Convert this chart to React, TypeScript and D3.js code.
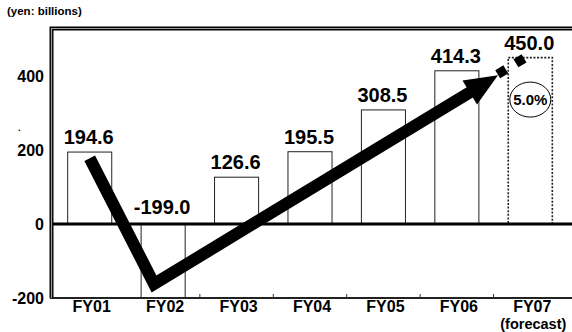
import React from "react";
import * as d3 from "d3";

// Fiscal years and results (yen: billions); FY07 is a forecast
const categories = ["FY01", "FY02", "FY03", "FY04", "FY05", "FY06", "FY07"];
const values = [194.6, -199.0, 126.6, 195.5, 308.5, 414.3, 450.0];
const valueLabels = ["194.6", "-199.0", "126.6", "195.5", "308.5", "414.3", "450.0"];
const forecastFlags = [false, false, false, false, false, false, true];
const yTicks = [-200, 0, 200, 400];
const unitLabel = "(yen: billions)";
const forecastNote = "(forecast)";
const forecastGrowth = "5.0%";

// Trend arrow waypoints: [category position (0 = FY01), value]
const trendPath: [number, number][] = [
  [0, 178],
  [0.876, -162],
  [5.56, 402],
];
// Dotted continuation toward the forecast
const trendForecast: [number, number][] = [
  [5.556, 405],
  [5.915, 448],
];

const W = 572;
const H = 332;
const left = 50;
const right = 572;
const top = 28;
const bottom = 298;

export default function App() {
  const y = d3.scaleLinear().domain([-200, 530]).range([bottom, top]);
  const x = d3
    .scaleBand<string>()
    .domain(categories)
    .range([53, 567])
    .paddingInner(0.4)
    .paddingOuter(0.2);
  const bw = x.bandwidth();
  const step = x.step();
  const cx = (c: string) => (x(c) as number) + bw / 2;
  const pos = d3
    .scaleLinear()
    .domain([0, categories.length - 1])
    .range([cx(categories[0]), cx(categories[categories.length - 1])]);

  const line = d3
    .line<[number, number]>()
    .x((d) => pos(d[0]))
    .y((d) => y(d[1]));

  // arrow head on the last trend segment
  const pts = trendPath.map((d) => [pos(d[0]), y(d[1])]);
  const [bx, by] = pts[pts.length - 1];
  const [ax, ay] = pts[pts.length - 2];
  const len = Math.hypot(bx - ax, by - ay);
  const ux = (bx - ax) / len;
  const uy = (by - ay) / len;
  const headLen = 33;
  const headW = 28;
  const baseX = bx - ux * headLen;
  const baseY = by - uy * headLen;
  const head = [
    [bx, by],
    [baseX - uy * (headW / 2), baseY + ux * (headW / 2)],
    [baseX + uy * (headW / 2), baseY - ux * (headW / 2)],
  ];
  const shaft: [number, number][] = [
    ...trendPath.slice(0, -1),
    [pos.invert(baseX + ux * 2), y.invert(baseY + uy * 2)],
  ];

  const font = "'Liberation Sans', Arial, Helvetica, sans-serif";
  const boundaries = d3.range(2, categories.length).map((i) => 53 + step * i);

  const fIdx = forecastFlags.indexOf(true);
  const fCat = categories[fIdx];
  const fTop = y(values[fIdx]);

  return (
    <svg
      width={W}
      height={H}
      style={{ position: "absolute", left: 0, top: 0, background: "#fff" }}
      fontFamily={font}
      fontWeight="bold"
    >
      <text x={7} y={14.5} fontSize={11.5}>
        {unitLabel}
      </text>
      <text x={18} y={131} fontSize={9}>
        .
      </text>

      {/* bars */}
      {categories.map((c, i) => {
        const v = values[i];
        const y0 = y(Math.max(0, v));
        const y1 = y(Math.min(0, v));
        return (
          <rect
            key={c}
            x={x(c)}
            y={y0}
            width={bw}
            height={y1 - y0}
            fill="#fff"
            stroke="#222"
            strokeWidth={forecastFlags[i] ? 1.6 : 1}
            strokeDasharray={forecastFlags[i] ? "2 1.6" : undefined}
          />
        );
      })}

      {/* value labels */}
      {categories.map((c, i) => {
        const v = values[i];
        const ly = v >= 0 ? y(v) - 8 : y(0) - 10;
        return (
          <text key={c} x={cx(c) - 1} y={ly} fontSize={20} textAnchor="middle">
            {valueLabels[i]}
          </text>
        );
      })}

      {/* growth rate badge */}
      <ellipse cx={cx(fCat)} cy={fTop + 42} rx={20.5} ry={17.5} fill="#fff" stroke="#000" strokeWidth={1} />
      <text x={cx(fCat)} y={fTop + 47.5} fontSize={15} textAnchor="middle">
        {forecastGrowth}
      </text>

      {/* zero line */}
      <line x1={left} x2={right} y1={y(0)} y2={y(0)} stroke="#000" strokeWidth={3} />

      {/* bottom axis */}
      <line x1={left} x2={right} y1={bottom} y2={bottom} stroke="#222" strokeWidth={2} />
      {boundaries.map((b, i) => (
        <line key={i} x1={b} x2={b} y1={bottom} y2={bottom - 4} stroke="#333" strokeWidth={1} />
      ))}

      {/* frame: top and left double rule */}
      <path d={`M${right},${top + 0.5}H${left + 1.5}V${bottom}`} fill="none" stroke="#000" strokeWidth={4} />
      <path d={`M${right},${top + 0.5}H${left + 1.5}V${bottom}`} fill="none" stroke="#9a9a9a" strokeWidth={1.2} />

      {/* y tick labels */}
      {yTicks.map((t) => (
        <text key={t} x={44} y={y(t) + 6} fontSize={16} textAnchor="end">
          {t}
        </text>
      ))}

      {/* x labels */}
      {categories.map((c) => (
        <text key={c} x={cx(c) + 2} y={312} fontSize={16} textAnchor="middle">
          {c}
        </text>
      ))}
      <text x={cx(fCat) + 3} y={329} fontSize={14.5} textAnchor="middle">
        {forecastNote}
      </text>

      {/* trend arrow */}
      <path d={line(shaft) || ""} fill="none" stroke="#000" strokeWidth={12} strokeLinejoin="miter" strokeMiterlimit={10} />
      <path d={d3.line()(head as [number, number][]) + "Z"} fill="#000" />
      <path
        d={line(trendForecast) || ""}
        fill="none"
        stroke="#000"
        strokeWidth={9.5}
        strokeDasharray="9.5 11.8"
      />
    </svg>
  );
}
